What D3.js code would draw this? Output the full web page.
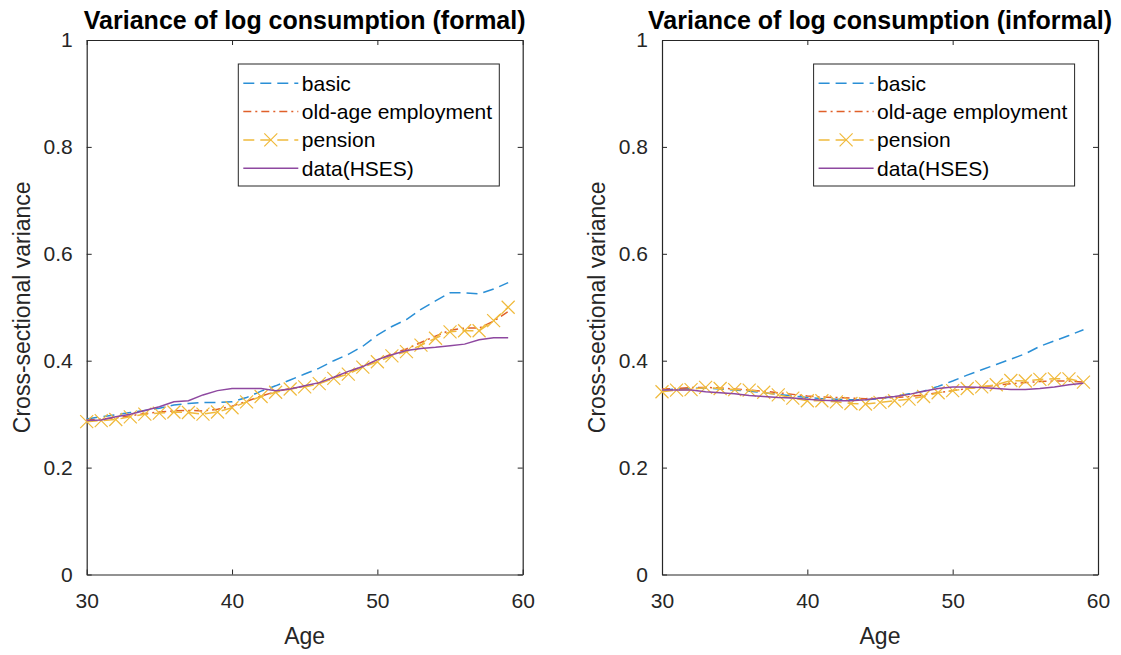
<!DOCTYPE html>
<html>
<head>
<meta charset="utf-8">
<script src="https://cdn.jsdelivr.net/npm/d3@7"></script>
<style>
  body { margin: 0; background: #fff; }
  svg { display: block; font-family: "Liberation Sans", Arial, sans-serif; }
</style>
</head>
<body>
<svg id="chart" width="1121" height="655"></svg>
<script>
const ages = [30, 31, 32, 33, 34, 35, 36, 37, 38, 39, 40, 41, 42, 43, 44,
  45, 46, 47, 48, 49, 50, 51, 52, 53, 54, 55, 56, 57, 58, 59];

const formalBasic = [0.291, 0.295, 0.299, 0.303, 0.307, 0.311, 0.317, 0.320, 0.322, 0.322,
  0.323, 0.331, 0.343, 0.353, 0.364, 0.375, 0.386, 0.400, 0.412, 0.427,
  0.448, 0.464, 0.477, 0.496, 0.512, 0.527, 0.527, 0.525, 0.534, 0.546];
const formalOldAge = [0.289, 0.291, 0.293, 0.297, 0.301, 0.304, 0.306, 0.307, 0.306, 0.309,
  0.315, 0.324, 0.334, 0.342, 0.348, 0.352, 0.358, 0.368, 0.378, 0.390,
  0.401, 0.413, 0.422, 0.434, 0.446, 0.457, 0.461, 0.461, 0.474, 0.492];
const formalPension = [0.286, 0.288, 0.290, 0.295, 0.300, 0.302, 0.304, 0.303, 0.300, 0.304,
  0.312, 0.323, 0.333, 0.341, 0.347, 0.351, 0.357, 0.367, 0.375, 0.388,
  0.398, 0.409, 0.417, 0.429, 0.442, 0.454, 0.456, 0.456, 0.475, 0.500];
const formalData = [0.288, 0.289, 0.295, 0.300, 0.307, 0.314, 0.323, 0.325, 0.336, 0.344,
  0.348, 0.348, 0.348, 0.344, 0.347, 0.353, 0.359, 0.369, 0.380, 0.389,
  0.402, 0.411, 0.419, 0.423, 0.425, 0.428, 0.431, 0.439, 0.443, 0.443];

const informalBasic = [0.345, 0.347, 0.348, 0.349, 0.347, 0.345, 0.343, 0.340, 0.337, 0.334,
  0.331, 0.329, 0.328, 0.327, 0.327, 0.329, 0.333, 0.338, 0.343, 0.352,
  0.362, 0.373, 0.383, 0.393, 0.403, 0.413, 0.427, 0.437, 0.447, 0.458];
const informalOldAge = [0.347, 0.348, 0.350, 0.350, 0.349, 0.347, 0.345, 0.343, 0.340, 0.337,
  0.334, 0.332, 0.331, 0.330, 0.329, 0.330, 0.331, 0.333, 0.336, 0.340,
  0.344, 0.348, 0.351, 0.354, 0.357, 0.359, 0.361, 0.362, 0.362, 0.360];
const informalPension = [0.342, 0.345, 0.346, 0.350, 0.348, 0.346, 0.345, 0.341, 0.336, 0.330,
  0.325, 0.325, 0.323, 0.320, 0.319, 0.322, 0.325, 0.328, 0.333, 0.340,
  0.344, 0.348, 0.351, 0.355, 0.363, 0.362, 0.365, 0.366, 0.366, 0.360];
const informalData = [0.345, 0.345, 0.345, 0.342, 0.340, 0.338, 0.335, 0.333, 0.331, 0.330,
  0.328, 0.326, 0.325, 0.325, 0.327, 0.330, 0.333, 0.337, 0.343, 0.348,
  0.351, 0.351, 0.350, 0.348, 0.346, 0.346, 0.348, 0.351, 0.355, 0.358];

const xTicks = [30, 40, 50, 60];
const yTicks = [0, 0.2, 0.4, 0.6, 0.8, 1];
const legendLabels = ["basic", "old-age employment", "pension", "data(HSES)"];
const panelTitles = ["Variance of log consumption (formal)", "Variance of log consumption (informal)"];

const axisColor = "#262626";
const styles = [
  { color: "#2a8fd6", dash: "11 6", marker: false },
  { color: "#e0602a", dash: "8 4 2 4", marker: false },
  { color: "#f0ba3c", dash: "11 6", marker: true },
  { color: "#8e48a0", dash: null, marker: false },
];

const svg = d3.select("#chart");
const plotTop = 40;
const plotBottom = 574.5;

function drawPanel(left, right, title, seriesValues) {
  const x = d3.scaleLinear().domain([30, 60]).range([left, right]);
  const y = d3.scaleLinear().domain([0, 1]).range([plotBottom, plotTop]);
  const g = svg.append("g");

  const bottomAxis = g.append("g")
    .attr("transform", `translate(0,${plotBottom})`)
    .call(d3.axisBottom(x).tickValues(xTicks).tickSizeInner(-5).tickSizeOuter(0).tickPadding(19));
  const topAxis = g.append("g")
    .attr("transform", `translate(0,${plotTop})`)
    .call(d3.axisTop(x).tickValues(xTicks).tickSizeInner(-5).tickSizeOuter(0).tickFormat(""));
  const leftAxis = g.append("g")
    .attr("transform", `translate(${left},0)`)
    .call(d3.axisLeft(y).tickValues(yTicks).tickSizeInner(-5).tickSizeOuter(0).tickPadding(14)
      .tickFormat(d3.format("~g")));
  const rightAxis = g.append("g")
    .attr("transform", `translate(${right},0)`)
    .call(d3.axisRight(y).tickValues(yTicks).tickSizeInner(-5).tickSizeOuter(0).tickFormat(""));

  for (const axis of [bottomAxis, topAxis, leftAxis, rightAxis]) {
    axis.select(".domain").attr("stroke", axisColor).attr("stroke-width", 1.2);
    axis.selectAll(".tick line").attr("stroke", axisColor);
    axis.selectAll(".tick text")
      .attr("fill", axisColor)
      .attr("font-size", 21)
      .attr("font-family", "Liberation Sans, Arial, sans-serif");
  }

  g.append("text")
    .attr("x", (left + right) / 2)
    .attr("y", 29)
    .attr("text-anchor", "middle")
    .attr("font-size", 25)
    .attr("font-weight", "bold")
    .attr("fill", "#000")
    .text(title);

  g.append("text")
    .attr("x", (left + right) / 2)
    .attr("y", 644)
    .attr("text-anchor", "middle")
    .attr("font-size", 23)
    .attr("fill", axisColor)
    .text("Age");

  g.append("text")
    .attr("transform", `translate(${left - 57},${(plotTop + plotBottom) / 2}) rotate(-90)`)
    .attr("text-anchor", "middle")
    .attr("font-size", 23)
    .attr("fill", axisColor)
    .text("Cross-sectional variance");

  const line = d3.line()
    .x((d) => x(d.age))
    .y((d) => y(d.value));

  seriesValues.forEach((values, i) => {
    const style = styles[i];
    const points = ages.map((age, k) => ({ age, value: values[k] }));
    g.append("path")
      .attr("fill", "none")
      .attr("stroke", style.color)
      .attr("stroke-width", 1.5)
      .attr("stroke-dasharray", style.dash)
      .attr("d", line(points));
    if (style.marker) {
      g.append("g")
        .selectAll("path")
        .data(points)
        .join("path")
        .attr("fill", "none")
        .attr("stroke", style.color)
        .attr("stroke-width", 1.2)
        .attr("d", (d) => {
          const cx = x(d.age);
          const cy = y(d.value);
          const r = 6.5;
          return `M${cx - r},${cy - r}L${cx + r},${cy + r}M${cx - r},${cy + r}L${cx + r},${cy - r}`;
        });
    }
  });

  // legend
  const lx = left + 151.6;
  const ly = 64;
  const legend = g.append("g").attr("transform", `translate(${lx},${ly})`);
  legend.append("rect")
    .attr("width", 261)
    .attr("height", 122)
    .attr("fill", "#fff")
    .attr("stroke", axisColor)
    .attr("stroke-width", 1);

  legendLabels.forEach((label, i) => {
    const style = styles[i];
    const ry = 19.3 + i * 28.3;
    legend.append("line")
      .attr("x1", 5)
      .attr("x2", 60)
      .attr("y1", ry)
      .attr("y2", ry)
      .attr("stroke", style.color)
      .attr("stroke-width", 1.5)
      .attr("stroke-dasharray", style.dash);
    if (style.marker) {
      const r = 6.5;
      legend.append("path")
        .attr("fill", "none")
        .attr("stroke", style.color)
        .attr("stroke-width", 1.2)
        .attr("d", `M${32.5 - r},${ry - r}L${32.5 + r},${ry + r}M${32.5 - r},${ry + r}L${32.5 + r},${ry - r}`);
    }
    legend.append("text")
      .attr("x", 63.5)
      .attr("y", ry)
      .attr("dy", "0.35em")
      .attr("font-size", 21)
      .attr("fill", "#000")
      .text(label);
  });
}

drawPanel(86.7, 522.7, panelTitles[0], [formalBasic, formalOldAge, formalPension, formalData]);
drawPanel(662, 1098, panelTitles[1], [informalBasic, informalOldAge, informalPension, informalData]);
</script>
</body>
</html>
